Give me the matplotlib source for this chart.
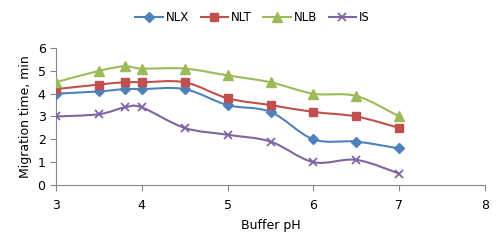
import numpy as np
import matplotlib.pyplot as plt
from matplotlib.path import Path
from matplotlib.patches import PathPatch

ph = [3, 3.5, 3.8, 4, 4.5, 5, 5.5, 6, 6.5, 7]
nlx = [4.0, 4.1, 4.2, 4.2, 4.2, 3.5, 3.2, 2.0, 1.9, 1.6]
nlt = [4.2, 4.4, 4.5, 4.5, 4.5, 3.8, 3.5, 3.2, 3.0, 2.5]
nlb = [4.5, 5.0, 5.2, 5.1, 5.1, 4.8, 4.5, 4.0, 3.9, 3.0]
iso = [3.0, 3.1, 3.4, 3.4, 2.5, 2.2, 1.9, 1.0, 1.1, 0.5]

series = [
    ("NLX", nlx, "#4F81BD", "D", 5),
    ("NLT", nlt, "#C0504D", "s", 6),
    ("NLB", nlb, "#9BBB59", "^", 6.5),
    ("IS", iso, "#8064A2", "x", 6),
]


def smooth_path(x, y, t=1/6):
    # bezier through the points, like excel's smoothed line
    x = np.asarray(x, float)
    y = np.asarray(y, float)
    verts = [(x[0], y[0])]
    codes = [Path.MOVETO]
    n = len(x)
    for i in range(n - 1):
        i0 = max(i - 1, 0)
        i3 = min(i + 2, n - 1)
        c1 = (x[i] + (x[i + 1] - x[i0]) * t, y[i] + (y[i + 1] - y[i0]) * t)
        c2 = (x[i + 1] - (x[i3] - x[i]) * t, y[i + 1] - (y[i3] - y[i]) * t)
        verts += [c1, c2, (x[i + 1], y[i + 1])]
        codes += [Path.CURVE4] * 3
    return Path(verts, codes)


fig = plt.figure(figsize=(5, 2.45), dpi=100)
ax = fig.add_axes([0.112, 0.245, 0.858, 0.559])

for name, vals, col, mk, ms in series:
    ax.add_patch(PathPatch(smooth_path(ph, vals), fill=False, edgecolor=col, lw=1.5, zorder=2))
    if mk == "x":
        ax.plot(ph, vals, ls="none", marker=mk, ms=ms, mew=1.3, color=col, zorder=3)
        ax.plot([], [], color=col, lw=1.5, marker=mk, ms=ms, mew=1.3, label=name)
    else:
        ax.plot(ph, vals, ls="none", marker=mk, ms=ms, color=col, mec=col, zorder=3)
        ax.plot([], [], color=col, lw=1.5, marker=mk, ms=ms, label=name)

ax.set_xlim(3, 8)
ax.set_ylim(0, 6)
ax.set_xticks(range(3, 9))
ax.set_yticks(range(0, 7))
ax.spines["top"].set_visible(False)
ax.spines["right"].set_visible(False)
for s in ("left", "bottom"):
    ax.spines[s].set_color("#868686")
ax.tick_params(colors="#868686", labelcolor="black", labelsize=9, length=4)
ax.tick_params(axis="x", pad=6)
ax.set_xlabel("Buffer pH", fontsize=9, labelpad=5)
ax.set_ylabel("Migration time, min", fontsize=9)

ax.legend(loc="center", bbox_to_anchor=(0.505, 0.93), bbox_transform=fig.transFigure,
          ncol=4, frameon=False, fontsize=8.5, handlelength=2.3, columnspacing=1.0,
          handletextpad=0.25)

fig.savefig("out.png", dpi=100)
